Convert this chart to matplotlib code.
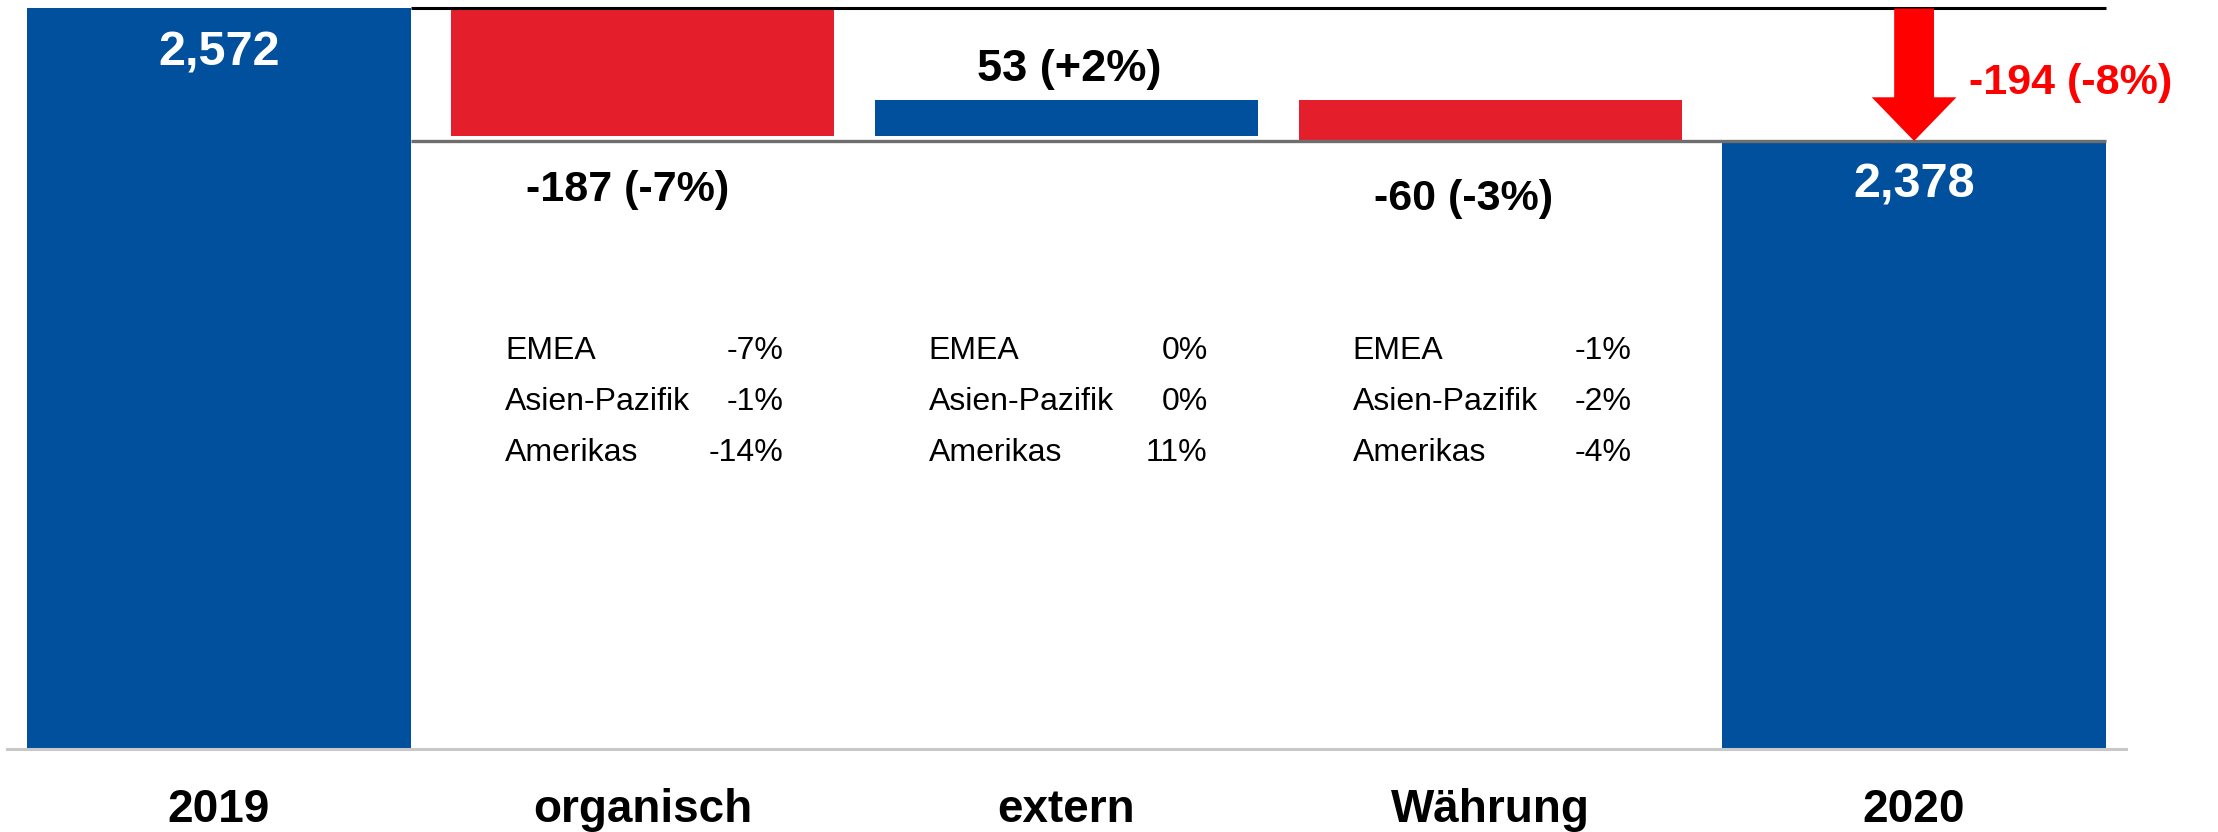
import matplotlib
matplotlib.use("Agg")
import matplotlib.pyplot as plt
from matplotlib.patches import FancyArrow
import numpy as np

plt.rcParams['font.family'] = ['Liberation Sans', 'DejaVu Sans']

# data
categories = ["2019", "organisch", "extern", "Währung", "2020"]
start_value = 2572
end_value = 2378
deltas = [-187, 53, -60]
delta_labels = ["-187 (-7%)", "53 (+2%)", "-60 (-3%)"]
total_label = "-194 (-8%)"
regions = ["EMEA", "Asien-Pazifik", "Amerikas"]
region_changes = [["-7%", "-1%", "-14%"],
                  ["0%", "0%", "11%"],
                  ["-1%", "-2%", "-4%"]]

BLUE = '#00509E'
RED = '#E41E2B'
ARROW_RED = '#FF0000'

fig = plt.figure(figsize=(22.18, 8.32), dpi=100)
ax = fig.add_axes([7/2218, 83/832, 2119/2218, 749/832])

w = 0.905
x = np.arange(len(categories))

# totals
ax.bar(x[0], start_value, width=w, color=BLUE, zorder=2)
ax.bar(x[-1], end_value, width=w, color=BLUE, zorder=2)

# label offsets (points) for the step labels
neg_offsets = {0: (-11, -39), 2: (-19, -42)}

# waterfall steps
running = start_value
for i, d in enumerate(deltas):
    xi = x[i + 1]
    bottom = min(running, running + d)
    ax.bar(xi, abs(d), bottom=bottom, width=w,
           color=RED if d < 0 else BLUE, zorder=2)
    if d < 0:
        ax.annotate(delta_labels[i], (xi, bottom), xytext=neg_offsets.get(i, (0, -40)),
                    textcoords='offset points', ha='center', va='center',
                    fontsize=31, fontweight='bold', color='black')
    else:
        ax.annotate(delta_labels[i], (xi, bottom + abs(d)), xytext=(2, 22),
                    textcoords='offset points', ha='center', va='center',
                    fontsize=32.5, fontweight='bold', color='black')
    running += d

# value labels inside total bars
for xi, v in [(x[0], start_value), (x[-1], end_value)]:
    ax.annotate(f"{v:,}", (xi, v), xytext=(0, -32), textcoords='offset points',
                ha='center', va='center', fontsize=35, fontweight='bold',
                color='white')

# reference lines
ax.plot([x[0] + w/2, x[-1] + w/2], [start_value, start_value],
        color='black', lw=2.2, zorder=3, solid_capstyle='butt')
ax.plot([x[0] + w/2, x[-1] + w/2], [end_value, end_value],
        color='#6e6e6e', lw=2.4, zorder=3, solid_capstyle='butt')

# total change arrow
ax.add_patch(FancyArrow(x[-1], start_value, 0, end_value - start_value,
                        width=0.094, head_width=0.2, head_length=64,
                        length_includes_head=True, color=ARROW_RED,
                        lw=0, zorder=4))
ax.annotate(total_label, (x[-1], start_value), xytext=(113, -54),
            textcoords='offset points', ha='center', va='center',
            fontsize=31, fontweight='bold', color=ARROW_RED)

# regional breakdown
row_y = [0.531, 0.463, 0.395]
for j, changes in enumerate(region_changes):
    xc = x[j + 1]
    for k, reg in enumerate(regions):
        ax.text(xc - 0.325, row_y[k], reg, transform=ax.get_xaxis_transform(),
                ha='left', va='center', fontsize=23)
        ax.text(xc + 0.333, row_y[k], changes[k], transform=ax.get_xaxis_transform(),
                ha='right', va='center', fontsize=23)

# category labels
for xi, c in zip(x, categories):
    ax.text(xi, -0.0975, c, transform=ax.get_xaxis_transform(),
            ha='center', va='baseline', fontsize=33, fontweight='bold')

ax.set_xlim(-0.5, 4.5)
ax.set_ylim(1488, 2584.4)
for s in ['left', 'right', 'top']:
    ax.spines[s].set_visible(False)
ax.spines['bottom'].set_color('#c8c8c8')
ax.spines['bottom'].set_linewidth(2.2)
ax.set_xticks([])
ax.set_yticks([])

fig.savefig('out.png', dpi=100)
